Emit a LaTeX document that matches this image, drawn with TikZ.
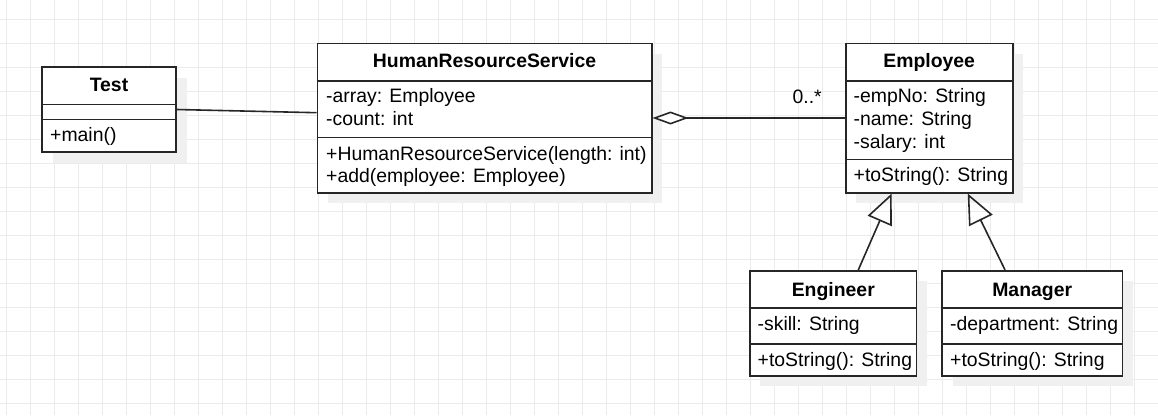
\documentclass[tikz,border=0pt]{standalone}
\usepackage{fontspec}
\setmainfont{Liberation Sans}
\usetikzlibrary{arrows.meta,shadows}

\begin{document}
\begin{tikzpicture}[x=1pt,y=-1pt,
  umlclass/.style={rectangle,draw=black!85,line width=1.6pt,fill=white,
    drop shadow={shadow xshift=10.5pt,shadow yshift=-10.5pt,fill=black!6,opacity=1}},
  classname/.style={anchor=base,inner sep=0pt,font=\bfseries\umlfont},
  member/.style={anchor=base west,inner sep=0pt,font=\umlfont},
  divider/.style={draw=black!85,line width=1.6pt},
  connector/.style={draw=black!85,line width=1.6pt},
  gridline/.style={draw=black!8,line width=1pt}]
\def\umlfont{\fontsize{19.4pt}{23pt}\selectfont}
\def\hTitle{24.5}
\useasboundingbox (0,0) rectangle (1158,415);
  % background grid
  \foreach \i in {0,...,47} \draw[gridline] ({6.5+24*\i},0) -- ({6.5+24*\i},415);
  \foreach \j in {0,...,16} \draw[gridline] (0,{19.3+24*\j}) -- (1158,{19.3+24*\j});

\path
(109,109.5) node [umlclass,minimum width=134pt,minimum height=85pt] (test) {}
(484.5,118) node [umlclass,minimum width=334.4pt,minimum height=149.4pt] (hrs) {}
(929.2,118) node [umlclass,minimum width=167pt,minimum height=149.4pt] (employee) {}
(833.3,323.2) node [umlclass,minimum width=166.7pt,minimum height=105pt] (engineer) {}
(1032.2,323.2) node [umlclass,minimum width=180.3pt,minimum height=105pt] (manager) {}
;

% compartments
\draw[divider] (test.west |- 0,104.3) -- (test.east |- 0,104.3);
\draw[divider] (test.west |- 0,119.3) -- (test.east |- 0,119.3);
\draw[divider] (hrs.west |- 0,80.7) -- (hrs.east |- 0,80.7);
\draw[divider] (hrs.west |- 0,137.3) -- (hrs.east |- 0,137.3);
\draw[divider] (employee.west |- 0,80.7) -- (employee.east |- 0,80.7);
\draw[divider] (employee.west |- 0,159.3) -- (employee.east |- 0,159.3);
\draw[divider] (engineer.west |- 0,308) -- (engineer.east |- 0,308);
\draw[divider] (engineer.west |- 0,344) -- (engineer.east |- 0,344);
\draw[divider] (manager.west |- 0,308) -- (manager.east |- 0,308);
\draw[divider] (manager.west |- 0,344) -- (manager.east |- 0,344);

\path
(109,91.7) node [classname] (testname) {Test}
(50,141.3) node [member] (testmain) {+main()}
(484.5,67.7) node [classname] (hrsname) {HumanResourceService}
(326,102.7) node [member] (hrsarray) {-array: Employee}
(326,125.7) node [member] (hrscount) {-count: int}
(326,160) node [member] (hrsnew) {+HumanResourceService(length: int)}
(326,182.7) node [member] (hrsadd) {+add(employee: Employee)}
(929.2,67.7) node [classname] (employeename) {Employee}
(853.5,102.7) node [member] (employeeno) {-empNo: String}
(853.5,125.7) node [member] (employeename2) {-name: String}
(853.5,148.5) node [member] (employeesalary) {-salary: int}
(853.5,181.7) node [member] (employeestr) {+toString(): String}
(833.3,296) node [classname] (engineername) {Engineer}
(757.5,330) node [member] (engineerskill) {-skill: String}
(757.5,366) node [member] (engineerstr) {+toString(): String}
(1032.2,296) node [classname] (managername) {Manager}
(950,330) node [member] (managerdept) {-department: String}
(950,366) node [member] (managerstr) {+toString(): String}
;

  % associations
  \draw[connector] (test.east) -- ([yshift=5.3pt]hrs.west);
  \draw[connector,{Diamond[open,fill=white,length=36pt,width=13pt]}-] (hrs.east) -- (employee.west)
    node[pos=1,anchor=base east,xshift=-19pt,yshift=14.7pt,font=\umlfont] (mult) {0..*};
  % inheritance
  \draw[connector,-{Triangle[open,length=30pt,width=26pt]}] ([xshift=25pt]engineer.north) -- ([xshift=-37.5pt]employee.south);
  \draw[connector,-{Triangle[open,length=30pt,width=26pt]}] ([xshift=-27.2pt]manager.north) -- ([xshift=38.5pt]employee.south);
\end{tikzpicture}
\end{document}
